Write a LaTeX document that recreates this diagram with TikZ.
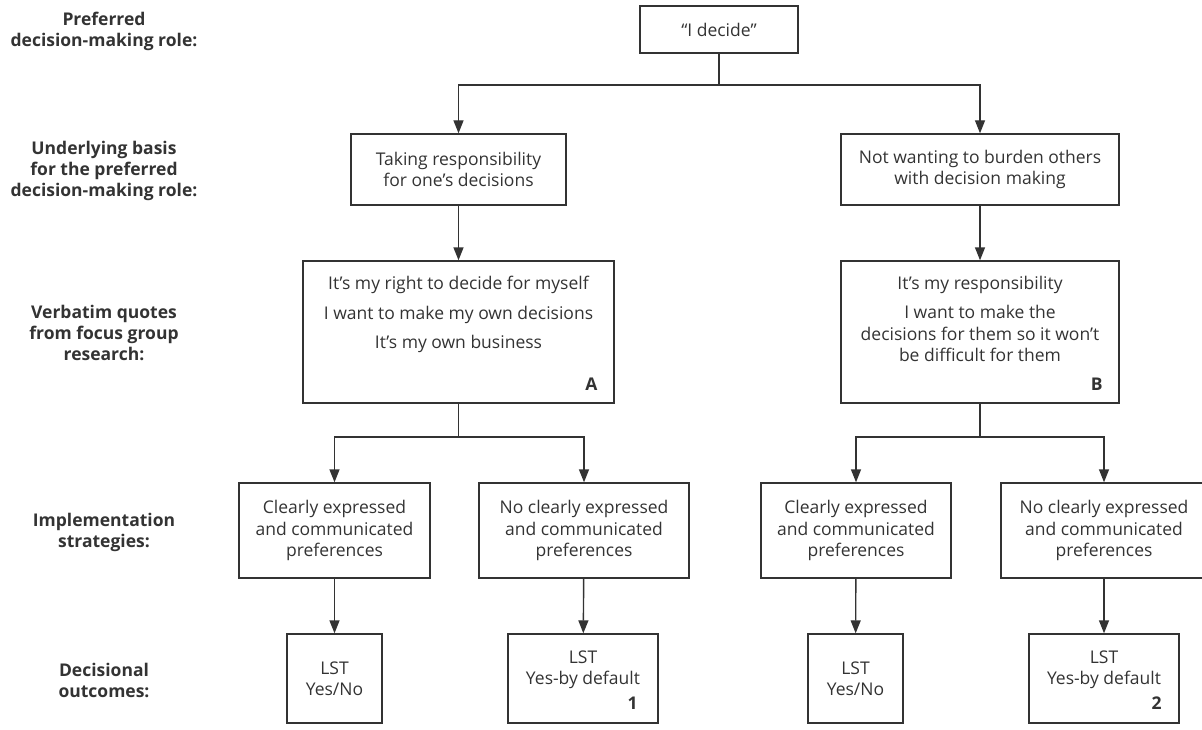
\documentclass[tikz,border=0pt]{standalone}
\usepackage{fontspec}
\setmainfont{Open Sans}
\usetikzlibrary{arrows.meta,positioning}
\definecolor{inkgray}{HTML}{333333}
\tikzset{
  box/.style={draw=inkgray, line width=1.4pt, text=inkgray, align=center,
    inner sep=0pt, font=\fontsize{17.5}{21.5}\selectfont},
  boxtext/.style={align=center, inner sep=0pt, text=inkgray,
    font=\fontsize{17.5}{21.5}\selectfont},
  rowlabel/.style={align=center, text=inkgray, font=\fontsize{17.5}{21}\selectfont\bfseries},
  tag/.style={inner sep=0pt, text=inkgray, font=\fontsize{17.5}{21}\selectfont\bfseries},
  link/.style={draw=inkgray, line width=1.4pt},
  arr/.style={link, -{Triangle[length=13pt,width=10pt]}},
}
\begin{document}
\begin{tikzpicture}[x=1pt,y=-1pt]
\useasboundingbox (0,0) rectangle (1202,730);

% ----------------------------------------------------------
% Row labels
% ----------------------------------------------------------
\node[rowlabel] (lab1) at (104,31) {Preferred\\decision-making role:};
\node[rowlabel] (lab2) at (104,171) {Underlying basis\\for the preferred\\decision-making role:};
\node[rowlabel] (lab3) at (104,333) {Verbatim quotes\\from focus group\\research:};
\node[rowlabel] (lab4) at (104,532) {Implementation\\strategies:};
\node[rowlabel] (lab5) at (104,680) {Decisional\\outcomes:};

% ----------------------------------------------------------
% Role and basis
% ----------------------------------------------------------
\node[box, minimum width=158, minimum height=47] (decide) at (719,29.5) {“I decide”};
\node[box, minimum width=215, minimum height=71] (basisA) at (458.5,169.5)
  {Taking responsibility\\for one’s decisions};
\node[box, minimum width=278, minimum height=71] (basisB) at (980,169.5)
  {Not wanting to burden others\\with decision making};

% ----------------------------------------------------------
% Quotes
% ----------------------------------------------------------
\node[box, minimum width=311, minimum height=142] (quoteA) at (458.5,332) {};
\node[boxtext, anchor=north] (quoteAtext) at (458.5,276)
  {It’s my right to decide for myself\\[8pt]I want to make my own decisions\\[8pt]It’s my own business};
\node[tag, anchor=base east] (tagA) at ([xshift=-17pt,yshift=13pt]quoteA.south east) {A};

\node[box, minimum width=278, minimum height=142] (quoteB) at (980,332) {};
\node[boxtext, anchor=north] (quoteBtext) at (980,276)
  {It’s my responsibility\\[8pt]I want to make the\\decisions for them so it won’t\\be difficult for them};
\node[tag, anchor=base east] (tagB) at ([xshift=-17pt,yshift=13pt]quoteB.south east) {B};

% ----------------------------------------------------------
% Implementation strategies
% ----------------------------------------------------------
\node[box, minimum width=191, minimum height=95] (implA1) at (334.5,530.5)
  {Clearly expressed\\and communicated\\preferences};
\node[box, minimum width=210, minimum height=95] (implA2) at (584,530.5)
  {No clearly expressed\\and communicated\\preferences};
\node[box, minimum width=190, minimum height=95] (implB1) at (856,530.5)
  {Clearly expressed\\and communicated\\preferences};
\node[box, minimum width=206, minimum height=95] (implB2) at (1104,530.5)
  {No clearly expressed\\and communicated\\preferences};

% ----------------------------------------------------------
% Outcomes
% ----------------------------------------------------------
\node[box, minimum width=95, minimum height=89] (outA1) at (334.5,678.5) {LST\\Yes/No};
\node[box, minimum width=150, minimum height=89] (outA2) at (583,678.5) {LST\\Yes-by default\\~};
\node[tag, anchor=base east] (tag1) at ([xshift=-21pt,yshift=14pt]outA2.south east) {1};
\node[box, minimum width=95, minimum height=89] (outB1) at (855.5,678.5) {LST\\Yes/No};
\node[box, minimum width=150, minimum height=89] (outB2) at (1104,678.5) {LST\\Yes-by default\\~};
\node[tag, anchor=base east] (tag2) at ([xshift=-18pt,yshift=14pt]outB2.south east) {2};

% ----------------------------------------------------------
% Connectors
% ----------------------------------------------------------
\coordinate (splitTop) at (719,85);
\coordinate (splitA) at (458.5,437);
\coordinate (splitB) at (980,437);

\draw[link] (decide.south) -- (splitTop);
\draw[arr] (splitTop) -| (basisA.north);
\draw[arr] (splitTop) -| (basisB.north);
\draw[arr] (basisA) -- (quoteA);
\draw[arr] (basisB) -- (quoteB);

\draw[link] (quoteA.south) -- (splitA);
\draw[arr] (splitA) -| (implA1.north);
\draw[arr] (splitA) -| (implA2.north);
\draw[link] (quoteB.south) -- (splitB);
\draw[arr] (splitB) -| (implB1.north);
\draw[arr] (splitB) -| (implB2.north);

\foreach \i/\o in {implA1/outA1, implA2/outA2, implB1/outB1, implB2/outB2} {
    \draw[arr] (\i) -- (\o);
}

\end{tikzpicture}
\end{document}
